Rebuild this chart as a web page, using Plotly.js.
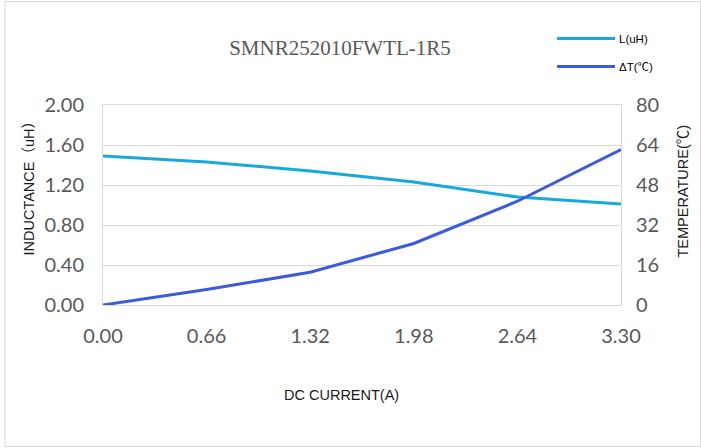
<!DOCTYPE html>
<html>
<head>
<meta charset="utf-8">
<script src="https://cdn.plot.ly/plotly-3.0.1.min.js"></script>
<style>html,body{margin:0;padding:0;background:#fff;}#chart{width:701px;height:448px;}</style>
</head>
<body>
<div id="chart"></div>
<script>
// Data
const current = [0.00, 0.66, 1.32, 1.98, 2.64, 3.30];
const inductance = [1.49, 1.43, 1.34, 1.23, 1.08, 1.01];
const deltaT = [0, 6.2, 13.1, 24.6, 41.5, 62.2];
const seriesNames = ['L(uH)', 'ΔT(℃)'];
const seriesColors = ['#17A9DB', '#3B5BDB'];
const xTickVals = [0.00, 0.66, 1.32, 1.98, 2.64, 3.30];
const chartTitle = 'SMNR252010FWTL-1R5';

const tickFont = {family: 'Lato, "Liberation Sans", sans-serif', size: 20, color: '#595959'};
const labelFont = {family: 'Arial, "Liberation Sans", "Noto Sans CJK SC", sans-serif', size: 14.5, color: '#1a1a1a'};

const traces = [
  {x: current, y: inductance, name: seriesNames[0], type: 'scatter', mode: 'lines',
   line: {color: seriesColors[0], width: 3}, yaxis: 'y'},
  {x: current, y: deltaT, name: seriesNames[1], type: 'scatter', mode: 'lines',
   line: {color: seriesColors[1], width: 3}, yaxis: 'y2'}
];

// custom legend (long line samples like the reference)
const legendShapes = [];
const legendAnn = [];
const legX0 = (557 - 103) / 518, legX1 = (615 - 103) / 518;
const legY = [(305.5 - 39) / 200, (305.5 - 67) / 200];
seriesNames.forEach((n, i) => {
  legendShapes.push({type: 'line', xref: 'paper', yref: 'paper', x0: legX0, x1: legX1, y0: legY[i], y1: legY[i],
    line: {color: seriesColors[i], width: 3}});
  legendAnn.push({xref: 'paper', yref: 'paper', x: legX1 + 2 / 518, y: legY[i], xanchor: 'left', yanchor: 'middle',
    text: n, showarrow: false, font: {family: 'Arial, "Liberation Sans", "Noto Sans CJK SC", sans-serif', size: 11.5, color: '#000'}});
});

const layout = {
  width: 701, height: 448,
  margin: {l: 103, r: 80, t: 105, b: 142.5, pad: 0},
  paper_bgcolor: '#fff', plot_bgcolor: '#fff',
  showlegend: false,
  title: {text: chartTitle, x: 340 / 701, xanchor: 'center', y: 1 - 48 / 448, yanchor: 'middle',
    font: {family: '"Liberation Serif", "DejaVu Serif", serif', size: 21, color: '#595959'}},
  xaxis: {range: [0, 3.3], tickvals: xTickVals, ticktext: xTickVals.map(v => v.toFixed(2)),
    showgrid: false, zeroline: false, showline: true, linecolor: '#d9d9d9', linewidth: 1, mirror: true,
    ticks: '', ticklabelstandoff: 13, tickfont: tickFont, fixedrange: true},
  yaxis: {range: [0, 2], dtick: 0.4, tick0: 0, tickformat: '.2f', showgrid: true, gridcolor: '#d9d9d9', gridwidth: 1,
    zeroline: false, showline: true, linecolor: '#d9d9d9', linewidth: 1, mirror: true,
    ticks: '', ticklabelstandoff: 14, tickfont: tickFont},
  yaxis2: {range: [0, 80], dtick: 16, tick0: 0, overlaying: 'y', side: 'right', showgrid: false, zeroline: false,
    showline: false, ticks: '', ticklabelstandoff: 14, tickfont: tickFont},
  shapes: [
    {type: 'rect', xref: 'paper', yref: 'paper', x0: (5 - 103) / 518, x1: (700.5 - 103) / 518,
     y0: (305.5 - 447) / 200, y1: (305.5 - 2) / 200, line: {color: '#d9d9d9', width: 1}, layer: 'below'}
  ].concat(legendShapes),
  annotations: [
    {xref: 'paper', yref: 'paper', x: (341 - 103) / 518, y: (305.5 - 395) / 200, xanchor: 'center', yanchor: 'middle',
     text: 'DC CURRENT(A)', showarrow: false, font: labelFont},
    {xref: 'paper', yref: 'paper', x: (28 - 103) / 518, y: (305.5 - 185) / 200, xanchor: 'center', yanchor: 'middle',
     text: 'INDUCTANCE（uH）', textangle: -90, showarrow: false, font: labelFont},
    {xref: 'paper', yref: 'paper', x: (682 - 103) / 518, y: (305.5 - 192) / 200, xanchor: 'center', yanchor: 'middle',
     text: 'TEMPERATURE(℃)', textangle: -90, showarrow: false, font: labelFont}
  ].concat(legendAnn)
};

Plotly.newPlot('chart', traces, layout, {displayModeBar: false, staticPlot: true});
</script>
</body>
</html>
